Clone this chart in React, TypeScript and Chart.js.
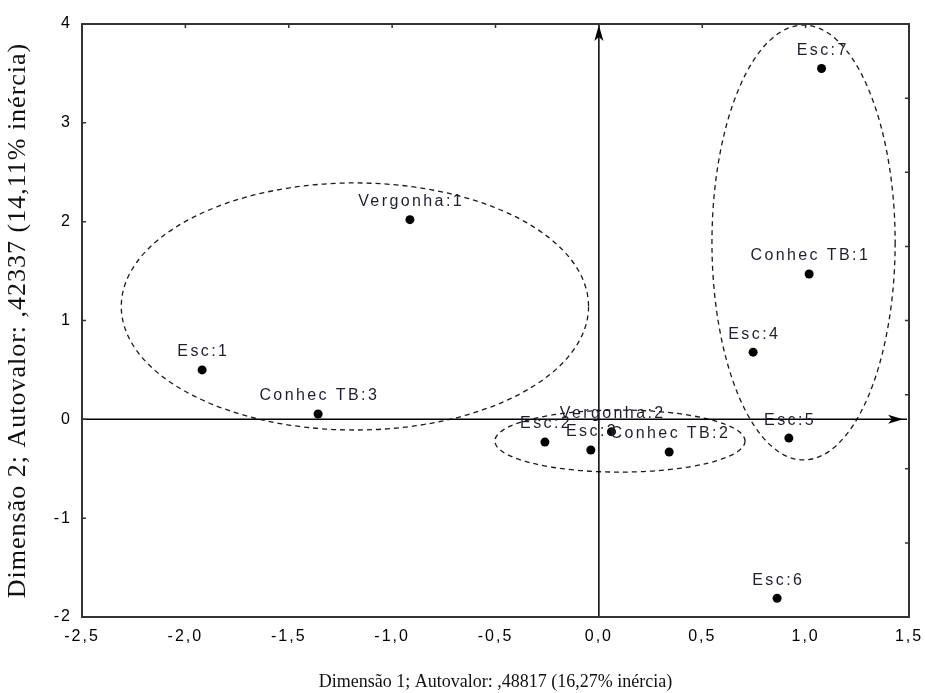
import React, { useEffect, useRef } from 'react';
import { Chart, registerables } from 'chart.js';

Chart.register(...registerables);

// ---- data ----
const pointLabels = [
  'Esc:1', 'Esc:2', 'Esc:3', 'Esc:4', 'Esc:5', 'Esc:6', 'Esc:7',
  'Conhec TB:1', 'Conhec TB:2', 'Conhec TB:3', 'Vergonha:1', 'Vergonha:2',
];
const dim1 = [-1.919, -0.261, -0.039, 0.746, 0.919, 0.862, 1.077, 1.017, 0.34, -1.358, -0.914, 0.061];
const dim2 = [0.50, -0.23, -0.31, 0.68, -0.19, -1.81, 3.55, 1.47, -0.33, 0.054, 2.02, -0.125];

const xTickLabels = ['-2,5', '-2,0', '-1,5', '-1,0', '-0,5', '0,0', '0,5', '1,0', '1,5'];
const yTickLabels = ['-2', '-1', '0', '1', '2', '3', '4'];

const xTitle = 'Dimensão 1; Autovalor: ,48817 (16,27% inércia)';
const yTitle = 'Dimensão 2; Autovalor: ,42337 (14,11% inércia)';

// dashed group ellipses (data units)
const ellipseCenterX = [-1.18, 0.102, 0.99];
const ellipseCenterY = [1.142, -0.22, 1.789];
const ellipseRadiusX = [1.13, 0.605, 0.443];
const ellipseRadiusY = [1.25, 0.314, 2.2];

const SANS = '"Liberation Sans", Arial, sans-serif';
const SERIF = '"Liberation Serif", "Times New Roman", serif';

function wrapDraw(scale: any, method: string, spacing: string) {
  const key = '__wrapped_' + method;
  if (scale[key]) return;
  const orig = scale[method].bind(scale);
  scale[method] = (...args: any[]) => {
    const ctx = scale.ctx;
    ctx.save();
    (ctx as any).letterSpacing = spacing;
    orig(...args);
    ctx.restore();
  };
  scale[key] = true;
}

const overlay = {
  id: 'overlay',
  beforeDatasetsDraw(chart: any) {
    const { ctx, chartArea: a, scales } = chart;
    const x = scales.x;
    const y = scales.y;
    ctx.save();
    // ellipses
    ctx.setLineDash([5, 4]);
    ctx.lineWidth = 1.3;
    ctx.strokeStyle = '#1a1a1a';
    for (let i = 0; i < ellipseCenterX.length; i++) {
      const cx = x.getPixelForValue(ellipseCenterX[i]);
      const cy = y.getPixelForValue(ellipseCenterY[i]);
      const rx = Math.abs(x.getPixelForValue(ellipseCenterX[i] + ellipseRadiusX[i]) - cx);
      const ry = Math.abs(y.getPixelForValue(ellipseCenterY[i] + ellipseRadiusY[i]) - cy);
      ctx.beginPath();
      ctx.ellipse(cx, cy, rx, ry, 0, 0, Math.PI * 2);
      ctx.stroke();
    }
    ctx.setLineDash([]);

    // axis lines through origin
    const x0 = x.getPixelForValue(0);
    const y0 = y.getPixelForValue(0);
    ctx.strokeStyle = '#000';
    ctx.lineWidth = 1.5;
    ctx.beginPath();
    ctx.moveTo(a.left, y0);
    ctx.lineTo(a.right - 2, y0);
    ctx.stroke();
    ctx.beginPath();
    ctx.moveTo(x0, a.bottom);
    ctx.lineTo(x0, a.top + 1);
    ctx.stroke();

    // arrow heads
    ctx.fillStyle = '#000';
    const tipX = a.right - 6;
    ctx.beginPath();
    ctx.moveTo(tipX, y0);
    ctx.lineTo(tipX - 15, y0 - 4.5);
    ctx.lineTo(tipX - 11, y0);
    ctx.lineTo(tipX - 15, y0 + 4.5);
    ctx.closePath();
    ctx.fill();
    const tipY = a.top + 1;
    ctx.beginPath();
    ctx.moveTo(x0, tipY);
    ctx.lineTo(x0 - 4.5, tipY + 16);
    ctx.lineTo(x0, tipY + 12);
    ctx.lineTo(x0 + 4.5, tipY + 16);
    ctx.closePath();
    ctx.fill();

    // frame
    ctx.strokeStyle = '#333';
    ctx.lineWidth = 2;
    ctx.strokeRect(a.left, a.top, a.right - a.left, a.bottom - a.top);

    // inward ticks
    ctx.lineWidth = 1.5;
    ctx.beginPath();
    x.ticks.forEach((t: any) => {
      const px = x.getPixelForValue(t.value);
      ctx.moveTo(px, a.top);
      ctx.lineTo(px, a.top + 4);
    });
    y.ticks.forEach((t: any) => {
      const py = y.getPixelForValue(t.value);
      ctx.moveTo(a.left, py);
      ctx.lineTo(a.left + 4, py);
    });
    for (let i = 0; i <= 8; i++) {
      const v = y.min + (i * (y.max - y.min)) / 8;
      const py = y.getPixelForValue(v);
      ctx.moveTo(a.right, py);
      ctx.lineTo(a.right - 4, py);
    }
    ctx.stroke();
    ctx.restore();
  },
  afterDatasetsDraw(chart: any) {
    const { ctx } = chart;
    const meta = chart.getDatasetMeta(0);
    ctx.save();
    ctx.font = `16px ${SANS}`;
    (ctx as any).letterSpacing = '2.4px';
    ctx.fillStyle = '#1e1e30';
    ctx.textAlign = 'center';
    ctx.textBaseline = 'middle';
    meta.data.forEach((el: any, i: number) => {
      ctx.fillText(pointLabels[i], el.x + 1.2, el.y - 18);
    });
    ctx.restore();
  },
};

export default function App() {
  const ref = useRef<HTMLCanvasElement | null>(null);
  useEffect(() => {
    if (!ref.current) return;
    const chart = new Chart(ref.current, {
      type: 'scatter',
      data: {
        datasets: [
          {
            data: dim1.map((v, i) => ({ x: v, y: dim2[i] })),
            pointRadius: 4.5,
            pointBackgroundColor: '#000',
            pointBorderWidth: 0,
            backgroundColor: '#000',
          },
        ],
      },
      options: {
        animation: false,
        responsive: true,
        maintainAspectRatio: false,
        layout: { padding: { top: 24, right: 16, left: 0, bottom: 0 } },
        plugins: { legend: { display: false }, tooltip: { enabled: false } },
        scales: {
          x: {
            type: 'linear',
            position: 'bottom',
            min: -2.5,
            max: 1.5,
            grid: { display: false, drawTicks: false },
            border: { display: false },
            ticks: {
              stepSize: 0.5,
              autoSkip: false,
              maxRotation: 0,
              padding: 10,
              color: '#000',
              font: { family: SANS, size: 16 },
              callback: (_v: any, i: number) => xTickLabels[i],
            },
            title: {
              display: true,
              text: xTitle,
              color: '#111',
              font: { family: SERIF, size: 18 },
              padding: { top: 0, bottom: 0 },
            },
            afterFit: (s: any) => {
              s.height = 76;
              s.paddingLeft = 0;
              s.paddingRight = 0;
              wrapDraw(s, 'drawLabels', '2px');
            },
          },
          y: {
            type: 'linear',
            position: 'left',
            min: -2,
            max: 4,
            grid: { display: false, drawTicks: false },
            border: { display: false },
            ticks: {
              stepSize: 1,
              autoSkip: false,
              padding: 10,
              color: '#000',
              font: { family: SANS, size: 16 },
              callback: (_v: any, i: number) => yTickLabels[i],
            },
            title: {
              display: true,
              text: yTitle,
              color: '#111',
              font: { family: SERIF, size: 26 },
              padding: { top: 3, bottom: 0 },
            },
            afterFit: (s: any) => {
              s.width = 82;
              s.paddingTop = 0;
              s.paddingBottom = 0;
              wrapDraw(s, 'drawLabels', '2px');
              wrapDraw(s, 'drawTitle', '1px');
            },
          },
        },
      },
      plugins: [overlay],
    });
    return () => chart.destroy();
  }, []);

  return (
    <div style={{ position: 'fixed', left: 0, top: 0, width: 925, height: 693, background: '#fff' }}>
      <canvas ref={ref} />
    </div>
  );
}
